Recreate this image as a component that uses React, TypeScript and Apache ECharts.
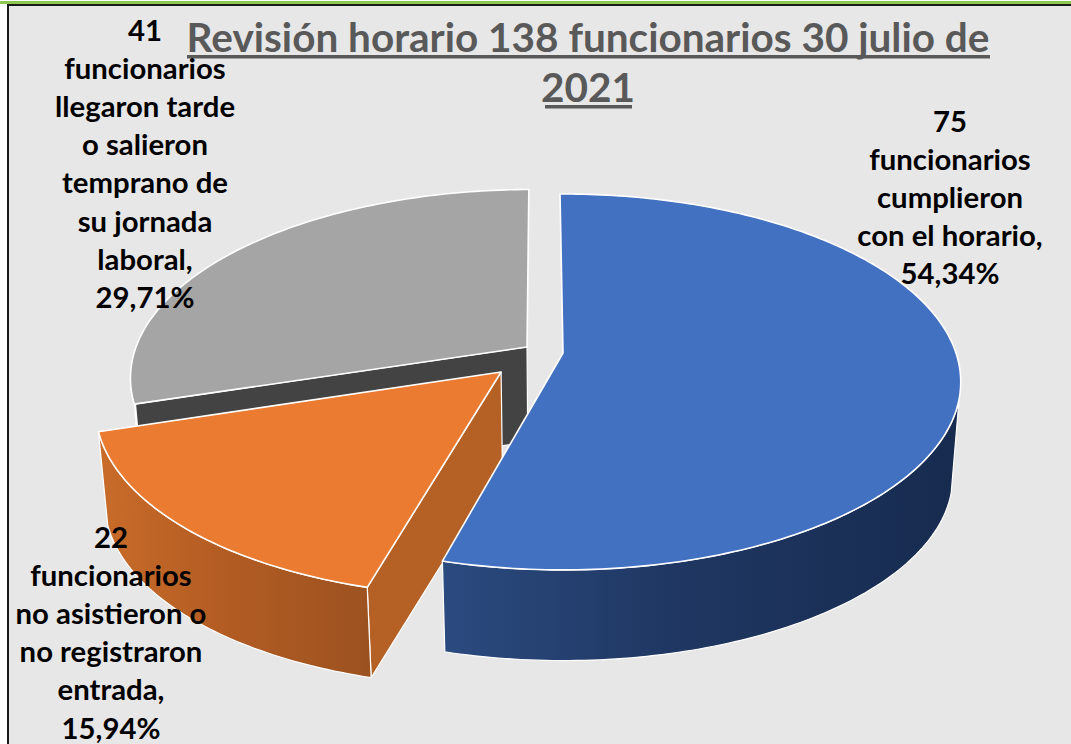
import React, { useEffect, useRef } from "react";
import * as echarts from "echarts";

const titleLines = ["Revisión horario 138 funcionarios 30 julio de", "2021"];
const counts = [75, 22, 41];
const percents = [54.34, 15.94, 29.71];
const labelBodies = [
  "funcionarios\ncumplieron\ncon el horario,",
  "funcionarios\nno asistieron o\nno registraron\nentrada,",
  "funcionarios\nllegaron tarde\no salieron\ntemprano de\nsu jornada\nlaboral,",
];

const topColors = ["#4371c2", "#ea7b31", "#a5a5a5"];
const innerColors = ["#1f3864", "#b56024", "#434343"];
const rimStops = [
  ["#2b4a7f", "#1f3762", "#172b4f"],
  ["#c96c2a", "#b35c23", "#9c5220"],
  ["#5a5a5a", "#505050", "#444444"],
];
// explosion of each slice in the pie's own plane (unit radius)
const explodeU = [0, -0.155, -0.092];
const explodeV = [0, 0.102, -0.033];
const drawOrder = [30, 20, 10];
const labelX = [950, 111, 145];
const labelTop = [101, 517, 10];

const FONT = "Lato";
const START_ANGLE = -0.5;
const CX = 563, CY = 353, RX = 393, RY = 183.5, K = 0.154, DEPTH = 95, SHRINK = 0.98;

const rad = (d: number) => (d * Math.PI) / 180;

function project(u: number, v: number, lower: boolean): number[] {
  const w = 1 - K * v;
  const sx = (RX * u) / w;
  const sy = (RY * v) / w;
  return lower
    ? [CX + SHRINK * sx, CY + SHRINK * sy + DEPTH]
    : [CX + sx, CY + sy];
}

function rimPoint(angle: number, i: number, lower: boolean) {
  return project(Math.sin(rad(angle)) + explodeU[i], -Math.cos(rad(angle)) + explodeV[i], lower);
}

function arc(from: number, to: number, i: number, lower: boolean) {
  const pts: number[][] = [];
  const n = Math.max(2, Math.ceil(Math.abs(to - from)));
  for (let s = 0; s <= n; s++) pts.push(rimPoint(from + ((to - from) * s) / n, i, lower));
  return pts;
}

const total = percents.reduce((a, b) => a + b, 0);
const starts: number[] = [];
percents.reduce((acc, p, i) => {
  starts[i] = acc;
  return acc + (p / total) * 360;
}, START_ANGLE);

function renderSlice(params: any, api: any) {
  const i = params.dataIndex;
  const start = starts[i];
  const end = start + (api.value(0) / total) * 360;
  const apexTop = project(explodeU[i], explodeV[i], false);
  const apexLow = project(explodeU[i], explodeV[i], true);
  const children: any[] = [];
  const z = drawOrder[i];

  if (start >= 90) {
    const a = rimPoint(start, i, false);
    const b = rimPoint(start, i, true);
    children.push({
      type: "polygon",
      z2: z,
      shape: { points: [apexTop, a, b, apexLow] },
      style: { fill: innerColors[i], stroke: "#ffffff", lineWidth: 1.2, lineJoin: "round" },
    });
  }
  const from = Math.max(start, 104);
  const to = Math.min(end, 265);
  if (to > from) {
    const upper = arc(from, to, i, false);
    const lower = arc(to, from, i, true);
    children.push({
      type: "polygon",
      z2: z + 1,
      shape: { points: upper.concat(lower) },
      style: {
        fill: new echarts.graphic.LinearGradient(0, 0, 1, 0, [
          { offset: 0, color: rimStops[i][0] },
          { offset: 0.45, color: rimStops[i][1] },
          { offset: 1, color: rimStops[i][2] },
        ]),
        stroke: "#ffffff",
        lineWidth: 1.2,
        lineJoin: "round",
      },
    });
  }
  children.push({
    type: "polygon",
    z2: z + 2,
    shape: { points: [apexTop].concat(arc(start, end, i, false)) },
    style: { fill: topColors[i], stroke: "#ffffff", lineWidth: 1.6, lineJoin: "round" },
  });
  return { type: "group", children };
}

function labelText(i: number) {
  const pct = percents[i].toFixed(2).replace(".", ",");
  return `${counts[i]}\n${labelBodies[i]}\n${pct}%`;
}

export default function App() {
  const ref = useRef<HTMLDivElement>(null);
  useEffect(() => {
    const chart = echarts.init(ref.current!, null, { renderer: "svg" });
    chart.setOption({
      animation: false,
      backgroundColor: "#ffffff",
      title: {
        text: titleLines.join("\n"),
        left: 588,
        top: 11,
        textAlign: "center",
        padding: 0,
        z: 6,
        textStyle: {
          fontFamily: FONT,
          fontWeight: "bold",
          fontSize: 40.5,
          lineHeight: 50,
          color: "#595959",
          align: "center",
        },
      },
      series: [
        {
          type: "custom",
          coordinateSystem: "none",
          silent: true,
          z: 3,
          data: percents.map((p) => [p]),
          renderItem: renderSlice,
        },
      ],
      graphic: [
        { type: "rect", z: -2, shape: { x: 0, y: 1, width: 1071, height: 3 }, style: { fill: "#8cc84b" } },
        {
          type: "rect",
          z: -1,
          shape: { x: 8, y: 5, width: 1080, height: 760 },
          style: { fill: "#e7e7e7", stroke: "#1a1a1a", lineWidth: 2 },
        },
        { type: "rect", z: 7, shape: { x: 187, y: 55, width: 803, height: 3.5 }, style: { fill: "#595959" } },
        { type: "rect", z: 7, shape: { x: 545, y: 105, width: 87, height: 3.5 }, style: { fill: "#595959" } },
        ...counts.map((_, i) => ({
          type: "text",
          z: 20,
          x: labelX[i],
          y: labelTop[i],
          style: {
            text: labelText(i),
            fontFamily: FONT,
            fontWeight: "bold",
            fontSize: 29.3,
            lineHeight: 38.2,
            fill: "#000000",
            align: "center",
            verticalAlign: "top",
          },
        })),
      ],
    });
    return () => chart.dispose();
  }, []);
  return <div ref={ref} style={{ position: "fixed", left: 0, top: 0, width: 1071, height: 744 }} />;
}
